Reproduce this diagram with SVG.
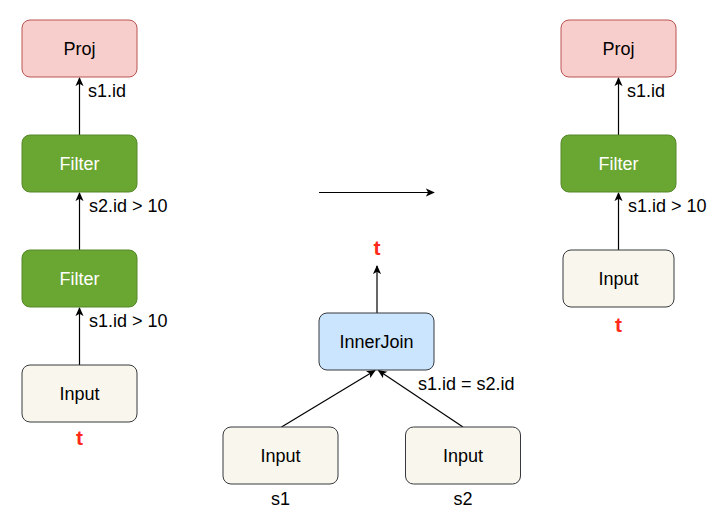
<svg xmlns="http://www.w3.org/2000/svg" width="720" height="520" viewBox="0 0 720 520">
<defs>
<marker id="arr" viewBox="0 0 10 10" refX="9" refY="5" markerWidth="9" markerHeight="9" markerUnits="userSpaceOnUse" orient="auto">
<path d="M0,0.5 L10,5 L0,9.5 L2.5,5 Z" fill="#000"/>
</marker>
<style>
.box{stroke-width:1}
.proj{fill:#f8cecc;stroke:#b85450}
.filter{fill:#6aa632;stroke:#55882a}
.input{fill:#f9f7ed;stroke:#36393d}
.join{fill:#cce5ff;stroke:#36393d}
.lbl{font-family:"Liberation Sans",Arial,sans-serif;font-size:18px;fill:#000}
.nl{font-family:"Liberation Sans",Arial,sans-serif;font-size:18px;text-anchor:middle;fill:#000}
.wl{fill:#fff}
.t{font-family:"Liberation Sans",Arial,sans-serif;font-size:21px;font-weight:bold;fill:#ff2a1a;text-anchor:middle}
.edge{stroke:#000;stroke-width:1.2;fill:none;marker-end:url(#arr)}
</style>
</defs>
<g id="connectors">
<line class="edge" x1="79.5" y1="365" x2="79.5" y2="308"/>
<line class="edge" x1="79.5" y1="250" x2="79.5" y2="193"/>
<line class="edge" x1="79.5" y1="135" x2="79.5" y2="78"/>
<line class="edge" x1="319" y1="192.5" x2="434" y2="192.5"/>
<line class="edge" x1="377" y1="313" x2="377" y2="266"/>
<line class="edge" x1="281.5" y1="427" x2="375" y2="370.5"/>
<line class="edge" x1="463" y1="427" x2="378.5" y2="370.5"/>
<line class="edge" x1="618.5" y1="250" x2="618.5" y2="193"/>
<line class="edge" x1="618.5" y1="135" x2="618.5" y2="78"/>
<text class="lbl" x="88" y="97">s1.id</text>
<text class="lbl" x="89" y="212">s2.id &gt; 10</text>
<text class="lbl" x="89" y="327">s1.id &gt; 10</text>
<text class="lbl" x="418" y="390">s1.id = s2.id</text>
<text class="lbl" x="627" y="97">s1.id</text>
<text class="lbl" x="628" y="212">s1.id &gt; 10</text>
</g>
<g id="proj-left"><rect class="box proj" x="22" y="20" width="115" height="57" rx="8"/><text class="nl" x="79.5" y="55">Proj</text></g>
<g id="filter-left-1"><rect class="box filter" x="22" y="135" width="115" height="57" rx="8"/><text class="nl wl" x="79.5" y="170">Filter</text></g>
<g id="filter-left-2"><rect class="box filter" x="22" y="250" width="115" height="57" rx="8"/><text class="nl wl" x="79.5" y="285">Filter</text></g>
<g id="input-left"><rect class="box input" x="22" y="365" width="115" height="57" rx="8"/><text class="nl" x="79.5" y="400">Input</text><text class="t" x="79.5" y="445">t</text></g>
<g id="t-center"><text class="t" x="377" y="255">t</text></g>
<g id="innerjoin"><rect class="box join" x="319" y="313" width="115" height="57" rx="8"/><text class="nl" x="376.5" y="348">InnerJoin</text></g>
<g id="input-s1"><rect class="box input" x="223" y="427" width="115" height="57" rx="8"/><text class="nl" x="280.5" y="462">Input</text><text class="nl" x="280.5" y="505">s1</text></g>
<g id="input-s2"><rect class="box input" x="405.5" y="427" width="115" height="57" rx="8"/><text class="nl" x="463" y="462">Input</text><text class="nl" x="463" y="505">s2</text></g>
<g id="proj-right"><rect class="box proj" x="561" y="20" width="115" height="57" rx="8"/><text class="nl" x="618.5" y="55">Proj</text></g>
<g id="filter-right"><rect class="box filter" x="561" y="135" width="115" height="57" rx="8"/><text class="nl wl" x="618.5" y="170">Filter</text></g>
<g id="input-right"><rect class="box input" x="563" y="250" width="111" height="57" rx="8"/><text class="nl" x="618.5" y="285">Input</text><text class="t" x="618.5" y="332">t</text></g>
</svg>
